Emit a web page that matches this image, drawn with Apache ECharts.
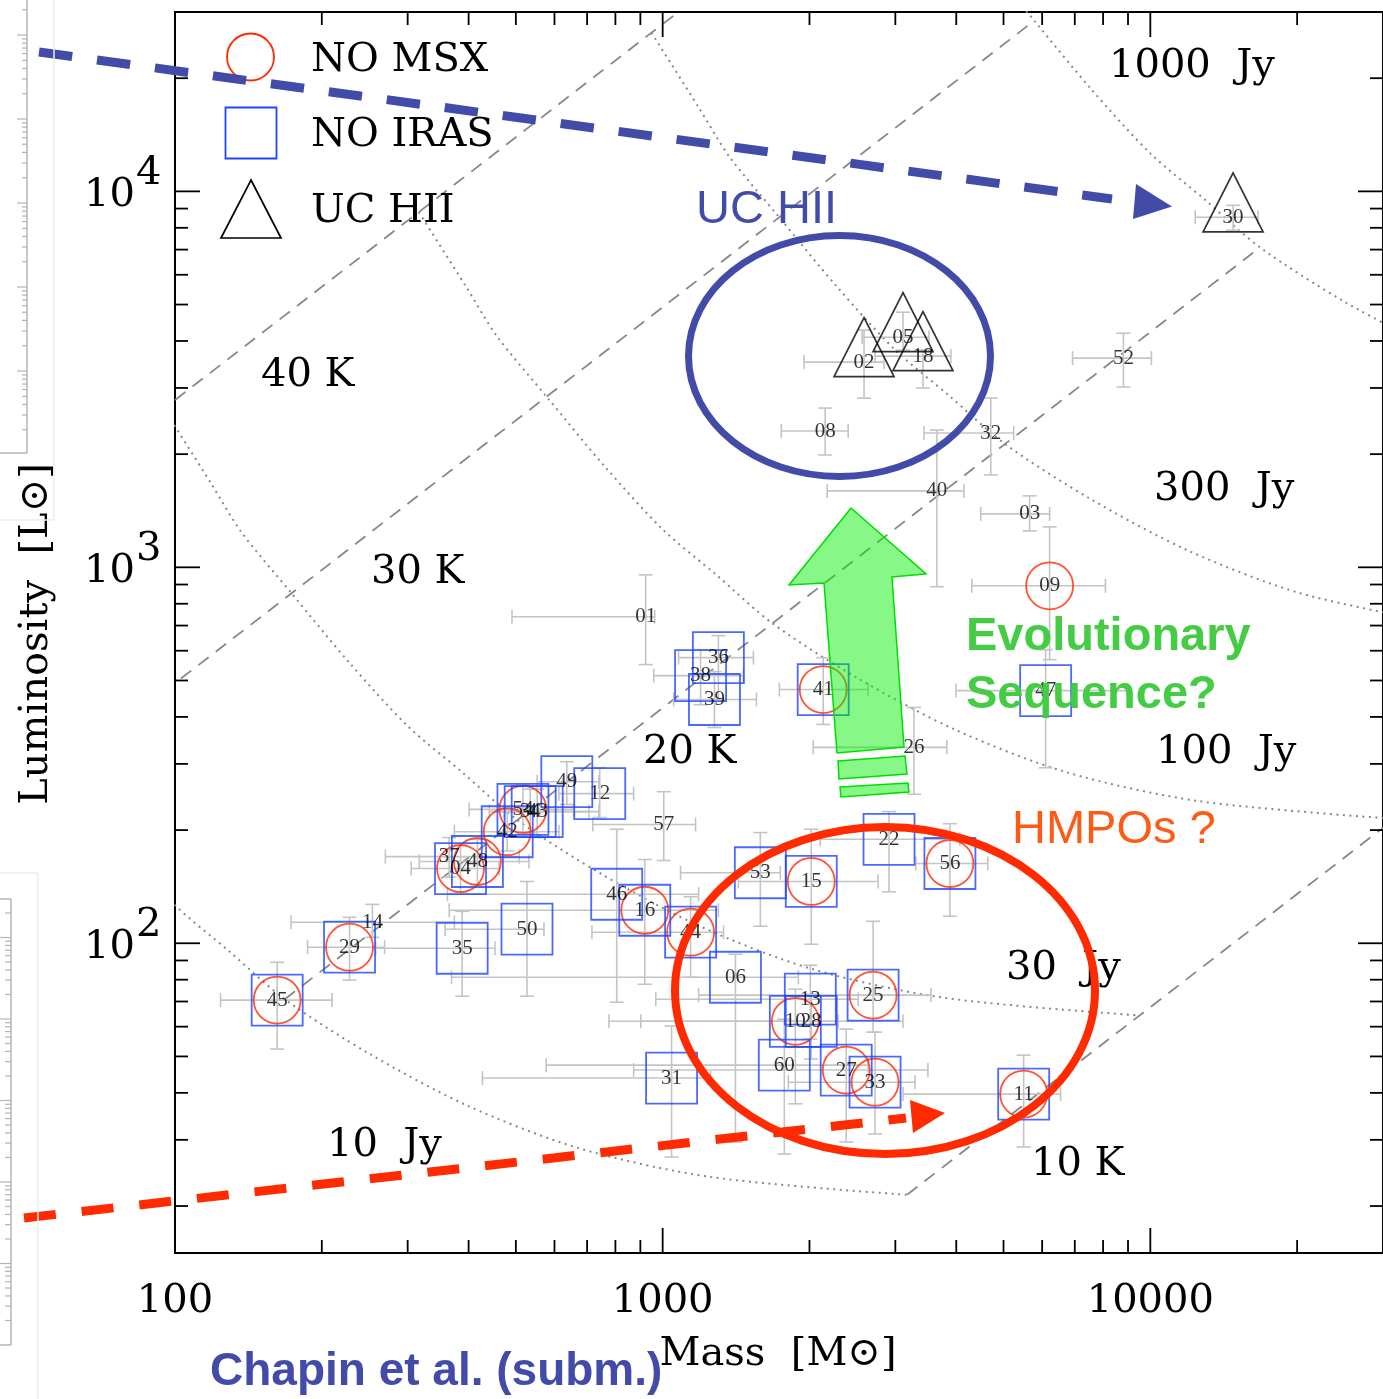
<!DOCTYPE html>
<html>
<head>
<meta charset="utf-8">
<title>Mass - Luminosity</title>
<script src="https://cdn.jsdelivr.net/npm/echarts@6/dist/echarts.min.js"></script>
<style>
  html, body { margin: 0; padding: 0; background: #ffffff; }
  #chart { width: 1383px; height: 1399px; }
</style>
</head>
<body>
<div id="chart"></div>
<script>
// ---- Sources: id, mass [Msun], luminosity [Lsun] and their error ranges ----
const ids = ['01','02','03','04','05','06','08','09','10','11','12','13','14','15','16','18','22','25','26','27','28','29','30','31','32','33','34','35','36','37','38','39','40','41','42','43','44','45','46','47','48','49','50','52','53','54','56','57','60'];
const mass = [923, 2588, 5656, 385, 3111, 1410, 2154, 6216, 1871, 5499, 743, 2008, 254, 2017, 919, 3418, 2912, 2701, 3276, 2379, 2017, 228, 14780, 1043, 4708, 2726, 535, 388, 1301, 365, 1196, 1277, 3650, 2134, 480, 553, 1141, 162, 805, 6100, 417, 636, 527, 8806, 1586, 517, 3882, 1005, 1776];
const lum = [739, 3515, 1387, 158, 4094, 81.2, 2304, 893, 62.0, 39.7, 250, 71.0, 113.7, 146, 122.4, 3646, 189, 72.8, 332, 46.0, 62.0, 97.6, 8531, 43.8, 2276, 42.7, 224, 97.0, 575, 170, 515, 445, 1597, 473, 198, 224, 107, 70.6, 135, 470, 165, 269, 109, 3601, 154, 227, 163, 207, 47.4];
const massLo = [491, 1950, 4490, 305, 2564, 369, 1751, 4305, 776, 3111, 613, 968, 173, 1430, 365, 2726, 2104, 1185, 2036, 872, 902, 187, 12360, 427, 3434, 1810, 441, 258, 1078, 270, 959, 1053, 2175, 1735, 374, 473, 716, 124, 362, 3993, 317, 553, 358, 6927, 1088, 401, 3304, 719, 577];
const massHi = [963, 2844, 6216, 462, 3516, 1898, 2401, 8090, 2291, 6546, 872, 2517, 374, 2765, 1301, 3900, 4069, 3549, 3826, 3499, 3111, 269, 16630, 1254, 5246, 3292, 706, 453, 1535, 508, 1464, 1557, 4146, 2638, 613, 740, 1333, 210, 1185, 8974, 532, 740, 571, 10050, 1743, 658, 4642, 1168, 2638];
const lumLo = [551, 2818, 1250, 137, 3783, 29.6, 1990, 568, 37.4, 28.7, 216, 55.6, 103.7, 99.4, 77.8, 2998, 137, 58.0, 249, 29.6, 49.2, 79.8, 7878, 27.0, 1761, 31.1, 195, 72.3, 445, 150, 431, 375, 888, 382, 176, 191, 81.2, 52.3, 69.7, 293, 143.5, 234, 72.3, 3016, 111, 195, 118, 166, 27.5];
const lumHi = [955, 4275, 1549, 183, 4771, 93.5, 2652, 1281, 75.5, 50.4, 293, 87.4, 126.9, 201, 167, 3783, 224, 114.4, 424, 59.1, 73.2, 117.2, 9181, 60.2, 2818, 58.0, 257, 121.6, 658, 191, 604, 528, 2318, 575, 224, 257, 133, 89.0, 201, 604, 189, 304, 146, 4195, 197, 264, 208, 253, 62.8];

// ---- Classification of the sources ----
const noMsx = ['04','09','10','11','15','16','25','27','29','33','41','42','44','45','48','54','56'];
const noIras = ['04','06','10','11','12','13','15','16','22','25','27','28','29','31','33','34','35','36','38','39','41','42','43','44','45','46','47','48','49','50','53','54','56','60'];
const ucHii = ['02','05','18','30'];

// ---- Constant-flux model curves [mass, luminosity] ----
const flux10 = [[57.81,284.4],[75.86,186.2],[100,126.2],[128.8,95.5],[167.9,70.96],[251.2,50.70],[398.1,36.98],[673.0,28.51],[1259,23.88],[3170,21.43]];
const flux30 = [[94.84,2642],[118.6,1671],[137.1,1236],[173.4,853.1],[227.5,558.5],[299.9,378.4],[386.4,286.4],[503.5,212.8],[753.4,152.1],[1194,110.9],[2018,85.51],[3776,71.61],[9506,64.27]];
const flux100 = [[316.2,8810],[395.4,5572],[457.1,4121],[578.1,2844],[758.6,1862],[1000,1262],[1288,955.0],[1679,709.6],[2512,507.0],[3981,369.8],[6730,285.1],[12590,238.8],[31700,214.3]];
const flux300 = [[948.4,26420],[1186,16710],[1371,12360],[1734,8531],[2275,5585],[2999,3784],[3864,2864],[5035,2128],[7534,1521],[11940,1109],[20180,855.1],[37760,716.1]];
const flux1000 = [[3954,55720],[4571,41210],[5781,28440],[7586,18620],[10000,12620],[12880,9550],[16790,7096],[25120,5070],[39810,3698]];

// ---- Constant-temperature lines [mass, luminosity] ----
const temp40 = [[31.62,881.0],[3162,88100]];
const temp30 = [[57.81,284.4],[5781,28440]];
const temp20 = [[167.9,70.96],[16790,7096]];
const temp10 = [[3170,21.43],[31700,214.3]];

// ---- Axis ticks and tick labels ----
const xMajor = [100, 1000, 10000];
const xMinor = [200,300,400,500,600,700,800,900,2000,3000,4000,5000,6000,7000,8000,9000,20000];
const yMajor = [100, 1000, 10000];
const yMinor = [20,30,40,50,60,70,80,90,200,300,400,500,600,700,800,900,2000,3000,4000,5000,6000,7000,8000,9000,20000];
const xTickLabels = ['100', '1000', '10000'];
const yTickLabels = [['10','2'], ['10','3'], ['10','4']];

const SERIF = '"DejaVu Serif", "Liberation Serif", serif';
const SANS = '"Liberation Sans", Arial, sans-serif';
const BLUE = '#434ba8';
const RED = '#ff2a00';

function points(list) {
  return list.map(id => {
    const i = ids.indexOf(id);
    return { name: id, value: [mass[i], lum[i]] };
  });
}

function curve(data, dash, smooth, width) {
  return {
    type: 'line', data: data, symbol: 'none', silent: true, z: 1,
    smooth: smooth,
    lineStyle: { color: '#888888', width: width, type: dash }
  };
}

function tickSeries(values, axis, len) {
  return {
    type: 'custom', silent: true, clip: false, z: 6,
    encode: { x: 0, y: 1 },
    data: values.map(v => axis === 'x' ? [v, 1000] : [1000, v]),
    renderItem: function (params, api) {
      const cs = params.coordSys;
      const p = api.coord([api.value(0), api.value(1)]);
      const st = { stroke: '#000', lineWidth: 1.8 };
      if (axis === 'x') {
        const b = cs.y + cs.height;
        return { type: 'group', children: [
          { type: 'line', shape: { x1: p[0], y1: b, x2: p[0], y2: b - len }, style: st },
          { type: 'line', shape: { x1: p[0], y1: cs.y, x2: p[0], y2: cs.y + len }, style: st }
        ]};
      }
      const r = cs.x + cs.width;
      return { type: 'group', children: [
        { type: 'line', shape: { x1: cs.x, y1: p[1], x2: cs.x + len, y2: p[1] }, style: st },
        { type: 'line', shape: { x1: r, y1: p[1], x2: r - len, y2: p[1] }, style: st }
      ]};
    }
  };
}

const series = [
  curve(flux10, [2, 4.5], 0.3, 2), curve(flux30, [2, 4.5], 0.3, 2), curve(flux100, [2, 4.5], 0.3, 2),
  curve(flux300, [2, 4.5], 0.3, 2), curve(flux1000, [2, 4.5], 0.3, 2),
  curve(temp40, [13, 9], false, 1.8), curve(temp30, [13, 9], false, 1.8),
  curve(temp20, [13, 9], false, 1.8), curve(temp10, [13, 9], false, 1.8),
  // error bars
  {
    type: 'custom', silent: true, z: 2,
    encode: { x: 0, y: 1 },
    data: ids.map((id, i) => [mass[i], lum[i], massLo[i], massHi[i], lumLo[i], lumHi[i]]),
    renderItem: function (params, api) {
      const c = api.coord([api.value(0), api.value(1)]);
      const xl = api.coord([api.value(2), api.value(1)])[0];
      const xh = api.coord([api.value(3), api.value(1)])[0];
      const yl = api.coord([api.value(0), api.value(4)])[1];
      const yh = api.coord([api.value(0), api.value(5)])[1];
      const cap = 7;
      const st = { stroke: '#c4c4c4', lineWidth: 1.6 };
      return { type: 'group', children: [
        { type: 'line', shape: { x1: xl, y1: c[1], x2: xh, y2: c[1] }, style: st },
        { type: 'line', shape: { x1: xl, y1: c[1] - cap, x2: xl, y2: c[1] + cap }, style: st },
        { type: 'line', shape: { x1: xh, y1: c[1] - cap, x2: xh, y2: c[1] + cap }, style: st },
        { type: 'line', shape: { x1: c[0], y1: yl, x2: c[0], y2: yh }, style: st },
        { type: 'line', shape: { x1: c[0] - cap, y1: yl, x2: c[0] + cap, y2: yl }, style: st },
        { type: 'line', shape: { x1: c[0] - cap, y1: yh, x2: c[0] + cap, y2: yh }, style: st }
      ]};
    }
  },
  // NO MSX
  { type: 'scatter', name: 'NO MSX', data: points(noMsx), symbol: 'circle', symbolSize: 47, silent: true, z: 3,
    itemStyle: { color: 'rgba(0,0,0,0)', borderColor: RED, borderWidth: 1.8 } },
  // NO IRAS
  { type: 'scatter', name: 'NO IRAS', data: points(noIras), symbol: 'rect', symbolSize: 51, silent: true, z: 3,
    itemStyle: { color: 'rgba(0,0,0,0)', borderColor: '#1f44ff', borderWidth: 1.8 } },
  // UC HII
  { type: 'scatter', name: 'UC HII', data: points(ucHii), symbol: 'triangle', symbolSize: [60, 59], symbolOffset: [0, -15], silent: true, z: 3,
    itemStyle: { color: 'rgba(0,0,0,0)', borderColor: '#000', borderWidth: 1.7 } },
  // source numbers
  { type: 'scatter', name: 'ids', data: points(ids), symbol: 'circle', symbolSize: 1, silent: true, z: 4,
    itemStyle: { color: 'rgba(0,0,0,0)' },
    label: { show: true, position: 'inside', formatter: p => p.name, color: '#000',
             fontFamily: '"Liberation Serif", serif', fontSize: 21 } },
  tickSeries(xMajor, 'x', 25), tickSeries(xMinor, 'x', 13),
  tickSeries(yMajor, 'y', 25), tickSeries(yMinor, 'y', 13),
  // x tick labels
  {
    type: 'custom', silent: true, clip: false, z: 6, encode: { x: 0, y: 1 },
    data: xMajor.map(v => [v, 1000]),
    renderItem: function (params, api) {
      const cs = params.coordSys;
      const p = api.coord([api.value(0), api.value(1)]);
      const t = xTickLabels[params.dataIndex];
      return { type: 'text', x: p[0], y: cs.y + cs.height + 49,
        style: { text: t, font: '40px ' + SERIF, fill: '#000', align: 'center', verticalAlign: 'middle', textAlign: 'center', textVerticalAlign: 'middle' } };
    }
  },
  // y tick labels (10 with superscript exponent)
  {
    type: 'custom', silent: true, clip: false, z: 6, encode: { x: 0, y: 1 },
    data: yMajor.map(v => [1000, v]),
    renderItem: function (params, api) {
      const cs = params.coordSys;
      const p = api.coord([api.value(0), api.value(1)]);
      const t = yTickLabels[params.dataIndex];
      return { type: 'group', children: [
        { type: 'text', x: cs.x - 40, y: p[1] + 4,
          style: { text: t[0], font: '40px ' + SERIF, fill: '#000', align: 'right', verticalAlign: 'middle', textAlign: 'right', textVerticalAlign: 'middle' } },
        { type: 'text', x: cs.x - 39, y: p[1] - 18,
          style: { text: t[1], font: '40px ' + SERIF, fill: '#000', align: 'left', verticalAlign: 'middle', textAlign: 'left', textVerticalAlign: 'middle' } }
      ]};
    }
  }
];

// ---- Overlaid annotations ----
function txt(x, y, text, font, fill, align, rotation) {
  return { type: 'text', x: x, y: y, z: 60, silent: true, rotation: rotation || 0,
    style: { text: text, font: font, fill: fill, align: align || 'left', verticalAlign: 'middle', textAlign: align || 'left', textVerticalAlign: 'middle' } };
}
function seg(x1, y1, x2, y2, stroke, w, dash, z) {
  return { type: 'line', z: z || 60, silent: true, shape: { x1: x1, y1: y1, x2: x2, y2: y2 },
    style: { stroke: stroke, lineWidth: w, lineDash: dash || null } };
}
function poly(pts, fill, stroke, w) {
  return { type: 'polygon', z: 60, silent: true, shape: { points: pts },
    style: { fill: fill, stroke: stroke || null, lineWidth: w || 0 } };
}

const serif40 = '40px ' + SERIF;
const graphics = [
  // legend
  { type: 'circle', z: 60, silent: true, shape: { cx: 250.5, cy: 57, r: 23.5 }, style: { fill: 'rgba(0,0,0,0)', stroke: RED, lineWidth: 1.8 } },
  { type: 'rect', z: 60, silent: true, shape: { x: 225.5, y: 107.5, width: 51, height: 51 }, style: { fill: 'rgba(0,0,0,0)', stroke: '#1f44ff', lineWidth: 1.8 } },
  poly([[251, 180], [281, 238], [221, 238]], 'rgba(0,0,0,0)', '#000', 1.7),
  txt(311, 61, 'NO MSX', serif40, '#000'),
  txt(311, 136, 'NO IRAS', serif40, '#000'),
  txt(311, 212, 'UC HII', serif40, '#000'),
  // temperature and flux labels
  txt(261, 376, '40 K', serif40, '#000'),
  txt(371, 573, '30 K', serif40, '#000'),
  txt(643, 753, '20 K', serif40, '#000'),
  txt(1031, 1165, '10 K', serif40, '#000'),
  txt(1109, 67, '1000  Jy', serif40, '#000'),
  txt(1154, 490, '300  Jy', serif40, '#000'),
  txt(1156, 753, '100  Jy', serif40, '#000'),
  txt(1006, 969, '30  Jy', serif40, '#000'),
  txt(327, 1146, '10  Jy', serif40, '#000'),
  // axis titles
  txt(778, 1355, 'Mass  [M\u2299]', serif40, '#000', 'center'),
  txt(37, 634, 'Luminosity  [L\u2299]', serif40, '#000', 'center', Math.PI / 2),
  // UC HII group
  { type: 'ellipse', z: 60, silent: true, shape: { cx: 839.5, cy: 356, rx: 151, ry: 120.5 }, style: { fill: 'rgba(0,0,0,0)', stroke: BLUE, lineWidth: 7 } },
  txt(696, 210, 'UC HII', '47px ' + SANS, BLUE),
  seg(39, 52, 1112, 199, BLUE, 9, [33.5, 25]),
  poly([[1136, 184], [1172, 206.5], [1133, 219]], BLUE),
  // HMPO group
  { type: 'ellipse', z: 60, silent: true, shape: { cx: 885, cy: 990.5, rx: 210, ry: 163.5 }, style: { fill: 'rgba(0,0,0,0)', stroke: RED, lineWidth: 8 } },
  txt(1012, 830, 'HMPOs ?', '47px ' + SANS, '#ff5a14'),
  seg(24, 1218, 906, 1118, RED, 9, [32, 26]),
  poly([[910, 1100], [945, 1113], [913, 1133]], RED),
  // evolutionary arrow
  poly([[851, 508], [926, 574], [892, 577], [904, 747], [837, 753], [824, 583], [789, 585]], 'rgba(0,238,0,0.47)', '#00dd00', 1.5),
  poly([[838, 761], [905, 756], [907, 774], [839, 779]], 'rgba(0,238,0,0.47)', '#00dd00', 1.5),
  poly([[840, 787], [908, 783], [909, 792], [841, 797]], 'rgba(0,238,0,0.47)', '#00dd00', 1.5),
  txt(966, 637, 'Evolutionary', 'bold 47px ' + SANS, '#44cc44'),
  txt(966, 695, 'Sequence?', 'bold 47px ' + SANS, '#44cc44'),
  // reference
  txt(210, 1372, 'Chapin et al. (subm.)', 'bold 46px ' + SANS, BLUE)
];

// faint frames of neighbouring panels along the left margin
const mant = [2, 3, 4, 5, 6, 7, 8, 9];
graphics.push(seg(54, 0, 54, 520, '#ececec', 1.5, null, 0), seg(0, 520, 54, 520, '#ececec', 1.5, null, 0));
graphics.push(seg(27, 0, 27, 453, '#b4b4b4', 1.5, null, 0), seg(0, 453, 27, 453, '#b4b4b4', 1.5, null, 0));
for (let k = -1; k < 5; k++) {
  const y0 = 35 + 84 * k;
  if (y0 > 0 && y0 < 453) graphics.push(seg(17, y0, 27, y0, '#b4b4b4', 1.2, null, 0));
  mant.forEach(m => {
    const y = y0 + 84 * (1 - Math.log10(m));
    if (y > 0 && y < 453) graphics.push(seg(22, y, 27, y, '#b4b4b4', 1.2, null, 0));
  });
}
graphics.push(seg(38, 873, 38, 1399, '#ececec', 1.5, null, 0), seg(0, 873, 38, 873, '#ececec', 1.5, null, 0));
graphics.push(seg(11, 899, 11, 1345, '#b4b4b4', 1.5, null, 0), seg(0, 899, 11, 899, '#b4b4b4', 1.5, null, 0), seg(0, 1345, 11, 1345, '#b4b4b4', 1.5, null, 0));
for (let k = -1; k < 6; k++) {
  const y0 = 937.5 + 81.5 * k;
  if (y0 > 899 && y0 < 1345) graphics.push(seg(0, y0, 11, y0, '#b4b4b4', 1.2, null, 0));
  mant.forEach(m => {
    const y = y0 + 81.5 * (1 - Math.log10(m));
    if (y > 899 && y < 1345) graphics.push(seg(5, y, 11, y, '#b4b4b4', 1.2, null, 0));
  });
}

const chart = echarts.init(document.getElementById('chart'));
chart.setOption({
  animation: false,
  backgroundColor: '#ffffff',
  grid: { left: 175, top: 12, width: 1211, height: 1241, show: true, borderColor: '#000', borderWidth: 2, backgroundColor: 'rgba(0,0,0,0)' },
  xAxis: { type: 'log', logBase: 10, min: 100, max: 30000,
    axisLine: { show: false }, axisTick: { show: false }, axisLabel: { show: false }, splitLine: { show: false } },
  yAxis: { type: 'log', logBase: 10, min: 15, max: 30000,
    axisLine: { show: false }, axisTick: { show: false }, axisLabel: { show: false }, splitLine: { show: false } },
  series: series,
  graphic: { elements: graphics }
});
</script>
</body>
</html>
